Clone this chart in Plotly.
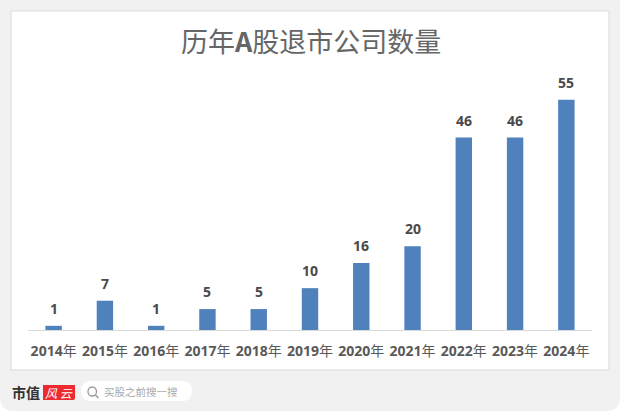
import plotly.graph_objects as go

categories = ["2014年","2015年","2016年","2017年","2018年","2019年","2020年","2021年","2022年","2023年","2024年"]
values = [1,7,1,5,5,10,16,20,46,46,55]
tick_labels = [f"<b>{c[:-1]}</b>年" for c in categories]

W, H = 620, 411
CJK = "Noto Sans CJK SC"
LAT = "Open Sans"

def px(x): return x / W
def py(y): return 1 - y / H

fig = go.Figure(go.Bar(
    x=categories, y=values,
    marker=dict(color="#4f81bd", line=dict(width=0)), width=0.32,
))

shapes = [
    dict(type="path", xref="paper", yref="paper", layer="below", fillcolor="#f1f1f1", line=dict(width=0),
         path=f"M {px(0)} {py(0)} L {px(620)} {py(0)} L {px(620)} {py(397)} Q {px(620)} {py(411)} {px(606)} {py(411)} L {px(14)} {py(411)} Q {px(0)} {py(411)} {px(0)} {py(397)} Z"),
    dict(type="rect", xref="paper", yref="paper", x0=px(11), x1=px(609), y0=py(370), y1=py(11),
         fillcolor="white", line=dict(color="#d9d9d9", width=1), layer="below"),
    dict(type="path", xref="paper", yref="paper", layer="below", fillcolor="#ed2a2f", line=dict(width=0),
         path=f"M {px(43)} {py(385)} L {px(75)} {py(385)} L {px(75)} {py(398)} Q {px(75)} {py(400)} {px(73)} {py(400)} L {px(43)} {py(400)} Z"),
    dict(type="path", xref="paper", yref="paper", layer="below", fillcolor="white", line=dict(width=0),
         path=f"M {px(91)} {py(381)} L {px(182)} {py(381)} Q {px(192)} {py(381)} {px(192)} {py(391)} Q {px(192)} {py(401)} {px(182)} {py(401)} L {px(91)} {py(401)} Q {px(81)} {py(401)} {px(81)} {py(391)} Q {px(81)} {py(381)} {px(91)} {py(381)} Z"),
    dict(type="circle", xref="paper", yref="paper", layer="above", fillcolor="rgba(0,0,0,0)",
         line=dict(color="#999999", width=1.3), x0=px(88), x1=px(96.5), y0=py(396), y1=py(387)),
    dict(type="line", xref="paper", yref="paper", layer="above", line=dict(color="#999999", width=1.5),
         x0=px(95.5), x1=px(98.5), y0=py(395), y1=py(398)),
]

def note(x, y, text, size, color, family=CJK, anchor="center", **kw):
    return dict(xref="paper", yref="paper", x=px(x), y=py(y), text=text, showarrow=False,
                xanchor=anchor, yanchor="middle", font=dict(family=family, size=size, color=color), **kw)

annotations = [
    note(311, 41, "历年<b>A</b>股退市公司数量", 27, "#666666"),
    note(10, 392, "<b>市值</b>", 14, "#333333", anchor="left"),
    note(59, 392, "<i>风 云</i>", 12, "#ffffff"),
    note(102, 391.5, "买股之前搜一搜", 10.5, "#aaaaaa", anchor="left"),
]
for c, v in zip(categories, values):
    annotations.append(dict(x=c, y=v, xref="x", yref="y", text=f"<b>{v}</b>", showarrow=False,
                            xanchor="center", yanchor="bottom", yshift=6,
                            font=dict(family=LAT, size=14, color="#4a4a4a")))

fig.update_layout(
    width=W, height=H, margin=dict(l=0, r=0, t=0, b=0), autosize=False,
    paper_bgcolor="#ffffff", plot_bgcolor="rgba(0,0,0,0)", showlegend=False,
    shapes=shapes, annotations=annotations,
    xaxis=dict(domain=[px(28), px(592)], type="category", showgrid=False, ticks="",
               tickmode="array", tickvals=categories, ticktext=tick_labels, ticklabelstandoff=8,
               showline=True, linecolor="#d9d9d9", linewidth=1, zeroline=False,
               tickfont=dict(family=f"{LAT}, {CJK}", size=14, color="#595959"),
               tickangle=0, automargin=False),
    yaxis=dict(domain=[py(330), py(58)], range=[0, 65], visible=False),
)
fig.write_html("out.html", config=dict(displayModeBar=False), post_script="document.body.style.margin='0';")
